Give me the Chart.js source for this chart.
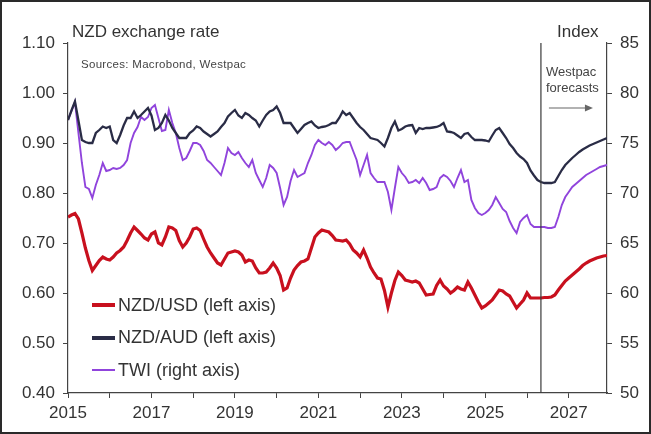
<!DOCTYPE html>
<html>
<head>
<meta charset="utf-8">
<title>NZD exchange rate</title>
<script src="https://cdn.jsdelivr.net/npm/chart.js@4.4.1/dist/chart.umd.min.js"></script>
<style>
  html, body { margin: 0; padding: 0; background: #fff; }
  #wrap { position: relative; width: 651px; height: 434px; font-family: "Liberation Sans", Arial, sans-serif; color: #333; }
  #frame { position: absolute; left: 0; top: 0; width: 651px; height: 434px; box-sizing: border-box; border: 2px solid #2a2a2a; pointer-events: none; }
  .txt { position: absolute; white-space: nowrap; line-height: 1; }
  #title { left: 72px; top: 23px; font-size: 17px; }
  #sources { left: 81px; top: 59px; font-size: 11.5px; color: #444; letter-spacing: 0.3px; }
  #index { left: 557px; top: 23px; font-size: 17px; }
  #fcst { left: 546px; top: 64px; font-size: 13px; line-height: 16px; color: #444; }
  #legend { position: absolute; left: 92px; top: 295px; font-size: 18px; }
  .row { display: flex; align-items: center; height: 20px; margin-bottom: 12.5px; }
  .sw { width: 23px; margin-right: 3px; }
</style>
</head>
<body>
<div id="wrap">
  <canvas id="chart" width="651" height="434"></canvas>
  <div class="txt" id="title">NZD exchange rate</div>
  <div class="txt" id="sources">Sources: Macrobond, Westpac</div>
  <div class="txt" id="index">Index</div>
  <div class="txt" id="fcst">Westpac<br>forecasts</div>
  <div id="legend"></div>
  <div id="frame"></div>
</div>
<script>
// monthly, Jan 2015 - Dec 2027
const startYear = 2015;
const forecastFrom = 2026 + 4 / 12;

const nzdUsd = [
  0.752, 0.756, 0.759, 0.748, 0.720, 0.690, 0.665, 0.645, 0.655, 0.665, 0.672, 0.668,
  0.666, 0.672, 0.680, 0.685, 0.692, 0.705, 0.720, 0.732, 0.725, 0.718, 0.710, 0.706,
  0.718, 0.722, 0.700, 0.696, 0.712, 0.732, 0.730, 0.725, 0.705, 0.692, 0.700, 0.712,
  0.728, 0.730, 0.725, 0.708, 0.692, 0.680, 0.670, 0.660, 0.656, 0.668, 0.680, 0.682,
  0.684, 0.682, 0.676, 0.662, 0.666, 0.664, 0.650, 0.640, 0.640, 0.642, 0.650, 0.660,
  0.650, 0.635, 0.606, 0.610, 0.630, 0.646, 0.655, 0.662, 0.664, 0.668, 0.690, 0.712,
  0.720, 0.726, 0.724, 0.722, 0.715, 0.706, 0.705, 0.704, 0.706, 0.698, 0.686, 0.680,
  0.672, 0.686, 0.670, 0.652, 0.640, 0.630, 0.628, 0.605, 0.572, 0.600, 0.625, 0.642,
  0.635, 0.626, 0.624, 0.622, 0.624, 0.620, 0.608, 0.596, 0.597, 0.598, 0.615, 0.626,
  0.614, 0.608, 0.600, 0.605, 0.612, 0.608, 0.606, 0.622, 0.610, 0.596, 0.582, 0.570,
  0.574, 0.580, 0.586, 0.596, 0.606, 0.604, 0.598, 0.594, 0.582, 0.570, 0.578, 0.586,
  0.600, 0.590, 0.590, 0.590, 0.590, 0.591, 0.591, 0.592, 0.596, 0.606, 0.615, 0.624,
  0.630, 0.636, 0.642, 0.648, 0.655, 0.660, 0.664, 0.667, 0.670, 0.672, 0.674, 0.675
];

const nzdAud = [
  0.946, 0.965, 0.983, 0.945, 0.906, 0.902, 0.900, 0.900, 0.920, 0.926, 0.933, 0.930,
  0.933, 0.906, 0.900, 0.916, 0.935, 0.950, 0.950, 0.963, 0.950, 0.956, 0.963, 0.970,
  0.955, 0.926, 0.930, 0.940, 0.956, 0.945, 0.930, 0.920, 0.910, 0.910, 0.910, 0.920,
  0.925, 0.933, 0.930, 0.923, 0.918, 0.913, 0.918, 0.923, 0.932, 0.940, 0.953, 0.960,
  0.966, 0.955, 0.950, 0.960, 0.956, 0.950, 0.945, 0.933, 0.945, 0.956, 0.963, 0.966,
  0.973, 0.960, 0.940, 0.940, 0.940, 0.930, 0.920, 0.928, 0.936, 0.940, 0.943, 0.935,
  0.930, 0.932, 0.933, 0.936, 0.940, 0.940, 0.950, 0.963, 0.956, 0.960, 0.950, 0.940,
  0.932, 0.926, 0.918, 0.910, 0.908, 0.906, 0.900, 0.893, 0.910, 0.930, 0.943, 0.925,
  0.928, 0.933, 0.935, 0.936, 0.920, 0.930, 0.928, 0.930, 0.930, 0.931, 0.932, 0.935,
  0.940, 0.923, 0.922, 0.920, 0.915, 0.910, 0.918, 0.920, 0.912, 0.906, 0.906, 0.906,
  0.905, 0.903, 0.915, 0.926, 0.930, 0.920, 0.910, 0.898, 0.890, 0.880, 0.873, 0.868,
  0.860, 0.845, 0.835, 0.826, 0.822, 0.820, 0.820, 0.820, 0.822, 0.834, 0.846, 0.856,
  0.863, 0.870, 0.876, 0.882, 0.887, 0.891, 0.895, 0.898, 0.901, 0.904, 0.907, 0.910
];

const twi = [
  77.3, 78.2, 79.1, 76.0, 73.0, 70.6, 70.4, 69.5, 70.8, 71.8, 73.0, 72.2,
  72.3, 72.5, 72.4, 72.5, 72.8, 73.3, 75.0, 76.0, 76.6, 77.6, 77.3, 77.6,
  78.5, 78.8, 77.5, 76.2, 76.3, 78.3, 77.0, 76.0, 74.5, 73.3, 73.5, 74.2,
  75.0, 75.0, 74.8, 74.2, 73.3, 73.0, 72.6, 72.2, 71.8, 73.0, 74.5, 74.0,
  73.8, 74.1, 73.5, 73.0, 72.6, 73.3, 72.0, 71.3, 70.6, 71.5, 72.8, 72.5,
  72.0, 70.5, 68.8, 69.6, 71.2, 72.3, 71.6, 71.8, 72.0, 73.0, 73.8, 74.8,
  75.3, 75.0, 74.8, 75.1, 74.8, 74.3, 74.6, 75.0, 75.1, 75.1, 74.2, 73.3,
  71.8, 72.8, 73.8, 72.0, 71.5, 71.1, 71.1, 71.1, 70.1, 68.3, 70.5, 72.6,
  72.0, 71.6, 71.0, 71.1, 71.3, 71.0, 71.5, 71.0, 70.3, 70.4, 70.6, 71.5,
  71.8, 71.6, 71.2, 70.6, 71.5, 72.3, 71.1, 71.3, 69.3, 68.5, 68.0, 67.8,
  68.0, 68.3, 68.8, 69.6, 69.0, 68.4, 68.1, 67.2, 66.5, 66.0, 67.1, 67.5,
  67.8, 66.9, 66.6, 66.6, 66.6, 66.6, 66.5, 66.5, 66.6, 67.6, 68.8, 69.6,
  70.1, 70.6, 70.9, 71.2, 71.5, 71.8, 72.0, 72.2, 72.4, 72.6, 72.7, 72.8
];

const months = nzdUsd.map((_, i) => startYear + i / 12);
const toPoints = arr => arr.map((v, i) => ({ x: months[i], y: v }));

const series = [
  { label: 'NZD/USD (left axis)', data: nzdUsd, axis: 'y', color: '#c8101e', width: 3.2, swatch: 4 },
  { label: 'NZD/AUD (left axis)', data: nzdAud, axis: 'y', color: '#2a2c46', width: 2.3, swatch: 4 },
  { label: 'TWI (right axis)', data: twi, axis: 'y2', color: '#9044dc', width: 1.9, swatch: 2 }
];

// vertical line at the start of the forecast period, plus the arrow
const forecastMarker = {
  id: 'forecastMarker',
  afterDatasetsDraw(chart) {
    const { ctx, chartArea, scales } = chart;
    const fx = scales.x.getPixelForValue(forecastFrom);
    ctx.save();
    ctx.strokeStyle = '#3a3a3a';
    ctx.lineWidth = 1.2;
    ctx.beginPath();
    ctx.moveTo(fx, chartArea.top);
    ctx.lineTo(fx, chartArea.bottom);
    ctx.stroke();

    const ay = scales.y.getPixelForValue(0.97);
    ctx.strokeStyle = '#666';
    ctx.fillStyle = '#666';
    ctx.lineWidth = 1.2;
    ctx.beginPath();
    ctx.moveTo(fx + 8, ay);
    ctx.lineTo(fx + 46, ay);
    ctx.stroke();
    ctx.beginPath();
    ctx.moveTo(fx + 52, ay);
    ctx.lineTo(fx + 44, ay - 3.5);
    ctx.lineTo(fx + 44, ay + 3.5);
    ctx.closePath();
    ctx.fill();
    ctx.restore();
  }
};

const tickFont = { family: '"Liberation Sans", Arial, sans-serif', size: 17 };
const axisGrid = { drawOnChartArea: false, drawTicks: true, tickLength: 5, color: '#444' };
const axisBorder = { display: true, color: '#444', width: 1.2 };

new Chart(document.getElementById('chart'), {
  type: 'line',
  data: {
    datasets: series.map((s, i) => ({
      label: s.label,
      data: toPoints(s.data),
      yAxisID: s.axis,
      borderColor: s.color,
      borderWidth: s.width,
      pointRadius: 0,
      tension: 0,
      fill: false,
      order: i
    }))
  },
  options: {
    responsive: false,
    animation: false,
    layout: { padding: { top: 43, left: 0, right: 0, bottom: 0 } },
    plugins: { legend: { display: false }, tooltip: { enabled: false } },
    scales: {
      x: {
        type: 'linear',
        min: startYear,
        max: 2027 + 11 / 12,
        afterFit(s) { s.height = 41; },
        ticks: {
          stepSize: 1,
          includeBounds: false,
          autoSkip: false,
          maxRotation: 0,
          padding: 5,
          color: '#333',
          font: tickFont,
          callback: v => (v % 2 === 1 ? String(v) : '')
        },
        grid: axisGrid,
        border: axisBorder
      },
      y: {
        position: 'left',
        min: 0.4,
        max: 1.1,
        afterFit(s) { s.width = 68; },
        ticks: { stepSize: 0.1, padding: 8, color: '#333', font: tickFont, callback: v => v.toFixed(2) },
        grid: axisGrid,
        border: axisBorder
      },
      y2: {
        position: 'right',
        min: 50,
        max: 85,
        afterFit(s) { s.width = 44; },
        ticks: { stepSize: 5, padding: 8, color: '#333', font: tickFont },
        grid: axisGrid,
        border: axisBorder
      }
    }
  },
  plugins: [forecastMarker]
});

// legend built from the series list
const legend = document.getElementById('legend');
series.forEach(s => {
  const row = document.createElement('div');
  row.className = 'row';
  const sw = document.createElement('span');
  sw.className = 'sw';
  sw.style.height = s.swatch + 'px';
  sw.style.background = s.color;
  const label = document.createElement('span');
  label.textContent = s.label;
  row.appendChild(sw);
  row.appendChild(label);
  legend.appendChild(row);
});
</script>
</body>
</html>
